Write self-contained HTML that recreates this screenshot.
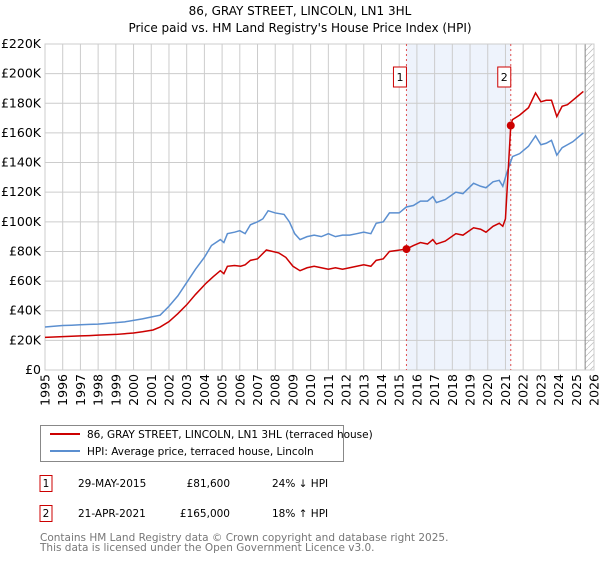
<!DOCTYPE html>
<html><head><meta charset="utf-8"><style>
body{margin:0;background:#fff;font-family:"Liberation Sans","DejaVu Sans",sans-serif;}
svg text{font-family:"DejaVu Sans","Liberation Sans",sans-serif;}
</style></head><body>
<svg id="c" width="600" height="560" xmlns="http://www.w3.org/2000/svg">
<text x="300" y="15" text-anchor="middle" font-size="12" fill="#000">86, GRAY STREET, LINCOLN, LN1 3HL</text>
<text x="300" y="32" text-anchor="middle" font-size="12" fill="#000">Price paid vs. HM Land Registry's House Price Index (HPI)</text>
<g id="plot"></g>
<g>
<rect x="40.5" y="425.5" width="303" height="36" fill="#fff" stroke="#888"/>
<line x1="50" y1="434" x2="80" y2="434" stroke="#cc0000" stroke-width="2"/>
<text x="87" y="438" font-size="10.5">86, GRAY STREET, LINCOLN, LN1 3HL (terraced house)</text>
<line x1="50" y1="451" x2="80" y2="451" stroke="#5b8fd0" stroke-width="2"/>
<text x="87" y="455" font-size="10.5">HPI: Average price, terraced house, Lincoln</text>
</g>
<g font-size="10.5">
<rect x="40" y="475.5" width="12" height="16" fill="#fff" stroke="#cc0000"/>
<text x="46" y="487" text-anchor="middle">1</text>
<text x="78" y="487">29-MAY-2015</text>
<text x="230" y="487" text-anchor="end">£81,600</text>
<text x="272" y="487">24% ↓ HPI</text>
<rect x="40" y="505.5" width="12" height="16" fill="#fff" stroke="#cc0000"/>
<text x="46" y="517" text-anchor="middle">2</text>
<text x="78" y="517">21-APR-2021</text>
<text x="230" y="517" text-anchor="end">£165,000</text>
<text x="272" y="517">18% ↑ HPI</text>
</g>
<text x="40" y="541" font-size="10.5" fill="#777">Contains HM Land Registry data © Crown copyright and database right 2025.</text>
<text x="40" y="551" font-size="10.5" fill="#777">This data is licensed under the Open Government Licence v3.0.</text>
</svg>
<script>
const yTicks=[0,20,40,60,80,100,120,140,160,180,200,220];
const years=[1995,1996,1997,1998,1999,2000,2001,2002,2003,2004,2005,2006,2007,2008,2009,2010,2011,2012,2013,2014,2015,2016,2017,2018,2019,2020,2021,2022,2023,2024,2025,2026];
const hpiX=[1995,1995.5,1996,1996.5,1997,1997.5,1998,1998.5,1999,1999.5,2000,2000.5,2001.1,2001.5,2002,2002.5,2003,2003.5,2004,2004.4,2004.9,2005.1,2005.3,2005.7,2006,2006.3,2006.6,2007,2007.3,2007.6,2008,2008.5,2008.8,2009.1,2009.4,2009.8,2010.2,2010.6,2011,2011.4,2011.8,2012.2,2012.6,2013,2013.4,2013.7,2014.1,2014.45,2015,2015.4,2015.8,2016.2,2016.6,2016.9,2017.1,2017.6,2018.2,2018.6,2019.2,2019.6,2019.9,2020.3,2020.65,2020.85,2021.1,2021.4,2021.8,2022.3,2022.7,2023,2023.3,2023.6,2023.9,2024.2,2024.5,2024.8,2025.1,2025.4];
const hpiV=[29,29.5,30,30.2,30.5,30.8,31,31.5,32,32.5,33.5,34.5,36,37,43,50,59,68,76,84,88,86,92,93,94,92,98,100,102,107.5,106,105,100,92,88,90,91,90,92,90,91,91,92,93,92,99,100,106,106,110,111,114,114,117,113,115,120,119,126,124,123,127,128,124,134,144,146,151,158,152,153,155,145,150,152,154,157,160];
const ppX=[1995,1995.5,1996,1996.5,1997,1997.5,1998,1998.5,1999,1999.5,2000,2000.5,2001.1,2001.5,2002,2002.5,2003,2003.5,2004.1,2004.5,2004.9,2005.1,2005.3,2005.7,2006.05,2006.3,2006.6,2007,2007.5,2008.2,2008.6,2009,2009.4,2009.8,2010.2,2010.6,2011,2011.4,2011.8,2012.2,2012.6,2013,2013.4,2013.7,2014.1,2014.45,2015.41,2015.8,2016.2,2016.6,2016.9,2017.1,2017.6,2018.2,2018.6,2019.2,2019.6,2019.9,2020.3,2020.65,2020.85,2021.0,2021.3,2021.4,2021.8,2022.3,2022.7,2023,2023.3,2023.6,2023.9,2024.2,2024.5,2024.8,2025.1,2025.4];
const ppV=[22,22.3,22.5,22.8,23,23.2,23.5,23.8,24,24.5,25,25.8,27,29,32.6,38,44,51,58.6,63,67,65,70,70.5,70,71,74,75,81,79,76,70,67,69,70,69,68,69,68,69,70,71,70,74,75,80,81.6,84,86,85,88,85,87,92,91,96,95,93,97,99,97,102,165,169,172,177,187,181,182,182,171,178,179,182,185,188];
const sales=[[2015.41,81.6,'1'],[2021.3,165,'2']];
const NS='http://www.w3.org/2000/svg';
const L=45,R=594,T=44,B=370;
const xs=y=>L+(y-1995)*(R-L)/31;
const ys=v=>B-v*(B-T)/220;
const g=document.getElementById('plot');
function mk(t,a){const e=document.createElementNS(NS,t);for(const k in a)e.setAttribute(k,a[k]);g.appendChild(e);return e;}
let e;
e=mk('rect',{x:xs(2015.41),y:T,width:xs(2021.3)-xs(2015.41),height:B-T,fill:'#eef3fc'});


const defs=document.createElementNS(NS,'defs');defs.innerHTML='<pattern id="h" width="6" height="6" patternUnits="userSpaceOnUse"><path d="M0,6 L6,0" stroke="#bbb" stroke-width="0.7"/></pattern>';g.appendChild(defs);
e=mk('rect',{x:xs(2025.5),y:T,width:R-xs(2025.5),height:B-T,fill:'url(#h)'});


yTicks.forEach(v=>{
 e=mk('line',{x1:L,x2:R,y1:ys(v),y2:ys(v),stroke:'#ccc'});
 
 
 e=mk('text',{x:L-4,y:ys(v)+4,'text-anchor':'end','font-size':'12.5',fill:'#000'});e.textContent=v===0?'£0':'£'+v+'K';
 
 
});
years.forEach(y=>{
 e=mk('line',{x1:xs(y),x2:xs(y),y1:T,y2:B,stroke:'#ccc'});
 
 
 e=mk('text',{x:0,y:0,'text-anchor':'end','font-size':'12.5',transform:`translate(${xs(y)+4.5},${B+4}) rotate(-90)`});e.textContent=y;
 
 
});
e=mk('line',{x1:xs(2025.5),x2:xs(2025.5),y1:T,y2:B,stroke:'#888'});


e=mk('rect',{x:L,y:T,width:R-L,height:B-T,fill:'none',stroke:'#ccc'});


sales.forEach(s=>{
 e=mk('line',{x1:xs(s[0]),x2:xs(s[0]),y1:T,y2:B,stroke:'#e05050','stroke-dasharray':'2,3','stroke-width':1});
 
 
});
e=mk('polyline',{points:hpiX.map((x,i)=>xs(x)+','+ys(hpiV[i])).join(' '),fill:'none',stroke:'#5b8fd0','stroke-width':1.5});


e=mk('polyline',{points:ppX.map((x,i)=>xs(x)+','+ys(ppV[i])).join(' '),fill:'none',stroke:'#cc0000','stroke-width':1.5});


sales.forEach(s=>{
 e=mk('circle',{cx:xs(s[0]),cy:ys(s[1]),r:4,fill:'#cc0000'});
 
 
 e=mk('rect',{x:xs(s[0])-13,y:67,width:13,height:20,fill:'#fff',stroke:'#cc0000'});
 
 
 e=mk('text',{x:xs(s[0])-6.5,y:81,'text-anchor':'middle','font-size':'11'});e.textContent=s[2];
 
 
});
</script>
</body></html>
